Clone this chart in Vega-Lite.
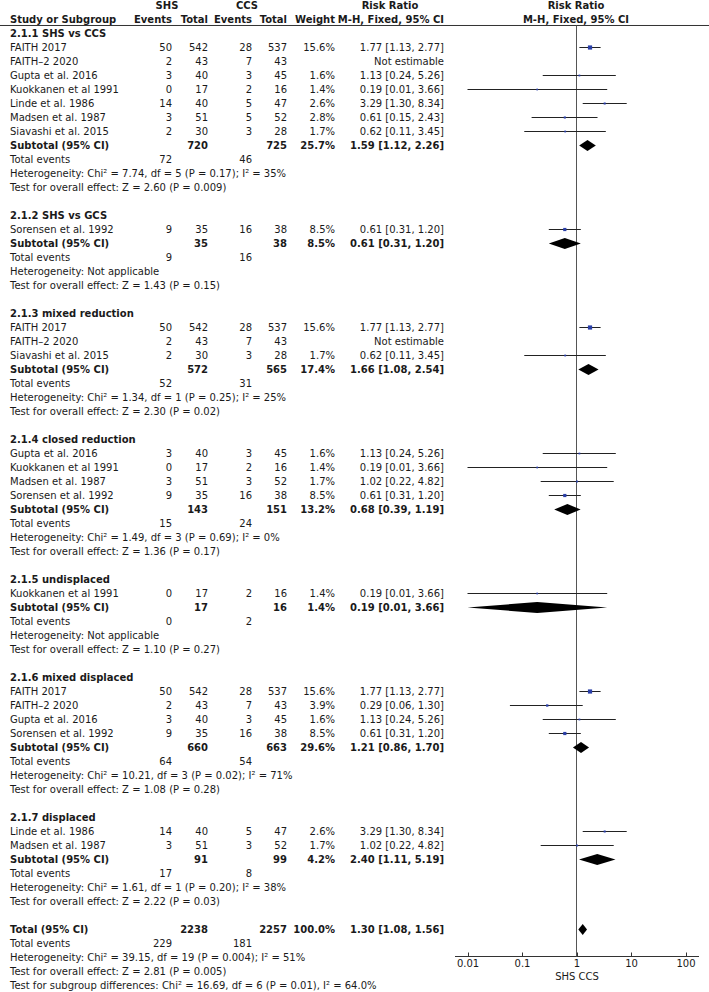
{
  "$schema": "https://vega.github.io/schema/vega-lite/v6.json",
  "width": 709,
  "height": 992,
  "padding": 0,
  "autosize": {"type": "none"},
  "background": "white",
  "config": {
    "view": {"stroke": null},
    "text": {"font": "DejaVu Sans", "fontSize": 10, "baseline": "middle", "color": "#1a1a1a"}
  },
  "data": {
    "values": [
      {"r": -2, "k": "colhead2", "g1": "SHS", "g2": "CCS", "h1": "Risk Ratio", "h2": "Risk Ratio"},
      {"r": -1, "k": "colhead", "n": "Study or Subgroup", "e1": "Events", "n1": "Total", "e2": "Events", "n2": "Total", "wh": "Weight", "ci": "M-H, Fixed, 95% CI", "h2": "M-H, Fixed, 95% CI"},
      {"r": 0, "k": "head", "n": "2.1.1 SHS vs CCS"},
      {"r": 1, "k": "study", "n": "FAITH 2017", "e1": 50, "n1": 542, "e2": 28, "n2": 537, "w": 0.156, "ci": "1.77 [1.13, 2.77]", "rr": 1.77, "lo": 1.13, "hi": 2.77},
      {"r": 2, "k": "study", "n": "FAITH–2 2020", "e1": 2, "n1": 43, "e2": 7, "n2": 43, "ci": "Not estimable"},
      {"r": 3, "k": "study", "n": "Gupta et al. 2016", "e1": 3, "n1": 40, "e2": 3, "n2": 45, "w": 0.016, "ci": "1.13 [0.24, 5.26]", "rr": 1.13, "lo": 0.24, "hi": 5.26},
      {"r": 4, "k": "study", "n": "Kuokkanen et al 1991", "e1": 0, "n1": 17, "e2": 2, "n2": 16, "w": 0.014, "ci": "0.19 [0.01, 3.66]", "rr": 0.19, "lo": 0.01, "hi": 3.66},
      {"r": 5, "k": "study", "n": "Linde et al. 1986", "e1": 14, "n1": 40, "e2": 5, "n2": 47, "w": 0.026, "ci": "3.29 [1.30, 8.34]", "rr": 3.29, "lo": 1.30, "hi": 8.34},
      {"r": 6, "k": "study", "n": "Madsen et al. 1987", "e1": 3, "n1": 51, "e2": 5, "n2": 52, "w": 0.028, "ci": "0.61 [0.15, 2.43]", "rr": 0.61, "lo": 0.15, "hi": 2.43},
      {"r": 7, "k": "study", "n": "Siavashi et al. 2015", "e1": 2, "n1": 30, "e2": 3, "n2": 28, "w": 0.017, "ci": "0.62 [0.11, 3.45]", "rr": 0.62, "lo": 0.11, "hi": 3.45},
      {"r": 8, "k": "sub", "n": "Subtotal (95% CI)", "n1": 720, "n2": 725, "w": 0.257, "ci": "1.59 [1.12, 2.26]", "rr": 1.59, "lo": 1.12, "hi": 2.26},
      {"r": 9, "k": "te", "n": "Total events", "e1": 72, "e2": 46},
      {"r": 10, "k": "info", "n": "Heterogeneity: Chi² = 7.74, df = 5 (P = 0.17); I² = 35%"},
      {"r": 11, "k": "info", "n": "Test for overall effect: Z = 2.60 (P = 0.009)"},
      {"r": 13, "k": "head", "n": "2.1.2 SHS vs GCS"},
      {"r": 14, "k": "study", "n": "Sorensen et al. 1992", "e1": 9, "n1": 35, "e2": 16, "n2": 38, "w": 0.085, "ci": "0.61 [0.31, 1.20]", "rr": 0.61, "lo": 0.31, "hi": 1.20},
      {"r": 15, "k": "sub", "n": "Subtotal (95% CI)", "n1": 35, "n2": 38, "w": 0.085, "ci": "0.61 [0.31, 1.20]", "rr": 0.61, "lo": 0.31, "hi": 1.20},
      {"r": 16, "k": "te", "n": "Total events", "e1": 9, "e2": 16},
      {"r": 17, "k": "info", "n": "Heterogeneity: Not applicable"},
      {"r": 18, "k": "info", "n": "Test for overall effect: Z = 1.43 (P = 0.15)"},
      {"r": 20, "k": "head", "n": "2.1.3 mixed reduction"},
      {"r": 21, "k": "study", "n": "FAITH 2017", "e1": 50, "n1": 542, "e2": 28, "n2": 537, "w": 0.156, "ci": "1.77 [1.13, 2.77]", "rr": 1.77, "lo": 1.13, "hi": 2.77},
      {"r": 22, "k": "study", "n": "FAITH–2 2020", "e1": 2, "n1": 43, "e2": 7, "n2": 43, "ci": "Not estimable"},
      {"r": 23, "k": "study", "n": "Siavashi et al. 2015", "e1": 2, "n1": 30, "e2": 3, "n2": 28, "w": 0.017, "ci": "0.62 [0.11, 3.45]", "rr": 0.62, "lo": 0.11, "hi": 3.45},
      {"r": 24, "k": "sub", "n": "Subtotal (95% CI)", "n1": 572, "n2": 565, "w": 0.174, "ci": "1.66 [1.08, 2.54]", "rr": 1.66, "lo": 1.08, "hi": 2.54},
      {"r": 25, "k": "te", "n": "Total events", "e1": 52, "e2": 31},
      {"r": 26, "k": "info", "n": "Heterogeneity: Chi² = 1.34, df = 1 (P = 0.25); I² = 25%"},
      {"r": 27, "k": "info", "n": "Test for overall effect: Z = 2.30 (P = 0.02)"},
      {"r": 29, "k": "head", "n": "2.1.4 closed reduction"},
      {"r": 30, "k": "study", "n": "Gupta et al. 2016", "e1": 3, "n1": 40, "e2": 3, "n2": 45, "w": 0.016, "ci": "1.13 [0.24, 5.26]", "rr": 1.13, "lo": 0.24, "hi": 5.26},
      {"r": 31, "k": "study", "n": "Kuokkanen et al 1991", "e1": 0, "n1": 17, "e2": 2, "n2": 16, "w": 0.014, "ci": "0.19 [0.01, 3.66]", "rr": 0.19, "lo": 0.01, "hi": 3.66},
      {"r": 32, "k": "study", "n": "Madsen et al. 1987", "e1": 3, "n1": 51, "e2": 3, "n2": 52, "w": 0.017, "ci": "1.02 [0.22, 4.82]", "rr": 1.02, "lo": 0.22, "hi": 4.82},
      {"r": 33, "k": "study", "n": "Sorensen et al. 1992", "e1": 9, "n1": 35, "e2": 16, "n2": 38, "w": 0.085, "ci": "0.61 [0.31, 1.20]", "rr": 0.61, "lo": 0.31, "hi": 1.20},
      {"r": 34, "k": "sub", "n": "Subtotal (95% CI)", "n1": 143, "n2": 151, "w": 0.132, "ci": "0.68 [0.39, 1.19]", "rr": 0.68, "lo": 0.39, "hi": 1.19},
      {"r": 35, "k": "te", "n": "Total events", "e1": 15, "e2": 24},
      {"r": 36, "k": "info", "n": "Heterogeneity: Chi² = 1.49, df = 3 (P = 0.69); I² = 0%"},
      {"r": 37, "k": "info", "n": "Test for overall effect: Z = 1.36 (P = 0.17)"},
      {"r": 39, "k": "head", "n": "2.1.5 undisplaced"},
      {"r": 40, "k": "study", "n": "Kuokkanen et al 1991", "e1": 0, "n1": 17, "e2": 2, "n2": 16, "w": 0.014, "ci": "0.19 [0.01, 3.66]", "rr": 0.19, "lo": 0.01, "hi": 3.66},
      {"r": 41, "k": "sub", "n": "Subtotal (95% CI)", "n1": 17, "n2": 16, "w": 0.014, "ci": "0.19 [0.01, 3.66]", "rr": 0.19, "lo": 0.01, "hi": 3.66},
      {"r": 42, "k": "te", "n": "Total events", "e1": 0, "e2": 2},
      {"r": 43, "k": "info", "n": "Heterogeneity: Not applicable"},
      {"r": 44, "k": "info", "n": "Test for overall effect: Z = 1.10 (P = 0.27)"},
      {"r": 46, "k": "head", "n": "2.1.6 mixed displaced"},
      {"r": 47, "k": "study", "n": "FAITH 2017", "e1": 50, "n1": 542, "e2": 28, "n2": 537, "w": 0.156, "ci": "1.77 [1.13, 2.77]", "rr": 1.77, "lo": 1.13, "hi": 2.77},
      {"r": 48, "k": "study", "n": "FAITH–2 2020", "e1": 2, "n1": 43, "e2": 7, "n2": 43, "w": 0.039, "ci": "0.29 [0.06, 1.30]", "rr": 0.29, "lo": 0.06, "hi": 1.30},
      {"r": 49, "k": "study", "n": "Gupta et al. 2016", "e1": 3, "n1": 40, "e2": 3, "n2": 45, "w": 0.016, "ci": "1.13 [0.24, 5.26]", "rr": 1.13, "lo": 0.24, "hi": 5.26},
      {"r": 50, "k": "study", "n": "Sorensen et al. 1992", "e1": 9, "n1": 35, "e2": 16, "n2": 38, "w": 0.085, "ci": "0.61 [0.31, 1.20]", "rr": 0.61, "lo": 0.31, "hi": 1.20},
      {"r": 51, "k": "sub", "n": "Subtotal (95% CI)", "n1": 660, "n2": 663, "w": 0.296, "ci": "1.21 [0.86, 1.70]", "rr": 1.21, "lo": 0.86, "hi": 1.70},
      {"r": 52, "k": "te", "n": "Total events", "e1": 64, "e2": 54},
      {"r": 53, "k": "info", "n": "Heterogeneity: Chi² = 10.21, df = 3 (P = 0.02); I² = 71%"},
      {"r": 54, "k": "info", "n": "Test for overall effect: Z = 1.08 (P = 0.28)"},
      {"r": 56, "k": "head", "n": "2.1.7 displaced"},
      {"r": 57, "k": "study", "n": "Linde et al. 1986", "e1": 14, "n1": 40, "e2": 5, "n2": 47, "w": 0.026, "ci": "3.29 [1.30, 8.34]", "rr": 3.29, "lo": 1.30, "hi": 8.34},
      {"r": 58, "k": "study", "n": "Madsen et al. 1987", "e1": 3, "n1": 51, "e2": 3, "n2": 52, "w": 0.017, "ci": "1.02 [0.22, 4.82]", "rr": 1.02, "lo": 0.22, "hi": 4.82},
      {"r": 59, "k": "sub", "n": "Subtotal (95% CI)", "n1": 91, "n2": 99, "w": 0.042, "ci": "2.40 [1.11, 5.19]", "rr": 2.40, "lo": 1.11, "hi": 5.19},
      {"r": 60, "k": "te", "n": "Total events", "e1": 17, "e2": 8},
      {"r": 61, "k": "info", "n": "Heterogeneity: Chi² = 1.61, df = 1 (P = 0.20); I² = 38%"},
      {"r": 62, "k": "info", "n": "Test for overall effect: Z = 2.22 (P = 0.03)"},
      {"r": 64, "k": "total", "n": "Total (95% CI)", "n1": 2238, "n2": 2257, "w": 1.0, "ci": "1.30 [1.08, 1.56]", "rr": 1.30, "lo": 1.08, "hi": 1.56},
      {"r": 65, "k": "te", "n": "Total events", "e1": 229, "e2": 181},
      {"r": 66, "k": "info", "n": "Heterogeneity: Chi² = 39.15, df = 19 (P = 0.004); I² = 51%"},
      {"r": 67, "k": "info", "n": "Test for overall effect: Z = 2.81 (P = 0.005)"},
      {"r": 68, "k": "info", "n": "Test for subgroup differences: Chi² = 16.69, df = 6 (P = 0.01), I² = 64.0%"}
    ]
  },
  "layer": [
    {
      "layer": [
        {"data": {"values": [{}]}, "mark": {"type": "rule", "color": "#333", "strokeWidth": 1}, "encoding": {"y": {"datum": -0.5716, "type": "quantitative", "scale": {"domain": [-2.393, 68.464], "reverse": true, "nice": false, "zero": false}, "axis": null}}},
        {
          "encoding": {"y": {"field": "r", "type": "quantitative", "scale": {"domain": [-2.393, 68.464], "reverse": true, "nice": false, "zero": false}, "axis": null}},
          "layer": [
            {"transform": [{"filter": "(datum.k=='study'||datum.k=='te'||datum.k=='info') && isValid(datum.n)"}], "mark": {"type": "text", "align": "left"}, "encoding": {"x": {"datum": 10, "type": "quantitative", "scale": {"domain": [0, 709], "nice": false, "zero": false}, "axis": null}, "text": {"field": "n", "type": "nominal"}}},
            {"transform": [{"filter": "!(datum.k=='study'||datum.k=='te'||datum.k=='info') && isValid(datum.n)"}], "mark": {"type": "text", "align": "left", "fontWeight": "bold"}, "encoding": {"x": {"datum": 10, "type": "quantitative", "scale": {"domain": [0, 709], "nice": false, "zero": false}, "axis": null}, "text": {"field": "n", "type": "nominal"}}},
            {"transform": [{"filter": "(datum.k=='study'||datum.k=='te') && isValid(datum.e1)"}], "mark": {"type": "text", "align": "right"}, "encoding": {"x": {"datum": 172, "type": "quantitative", "scale": {"domain": [0, 709], "nice": false, "zero": false}, "axis": null}, "text": {"field": "e1", "type": "nominal"}}},
            {"transform": [{"filter": "!(datum.k=='study'||datum.k=='te') && isValid(datum.e1)"}], "mark": {"type": "text", "align": "right", "fontWeight": "bold"}, "encoding": {"x": {"datum": 172, "type": "quantitative", "scale": {"domain": [0, 709], "nice": false, "zero": false}, "axis": null}, "text": {"field": "e1", "type": "nominal"}}},
            {"transform": [{"filter": "(datum.k=='study'||datum.k=='te') && isValid(datum.n1)"}], "mark": {"type": "text", "align": "right"}, "encoding": {"x": {"datum": 208, "type": "quantitative", "scale": {"domain": [0, 709], "nice": false, "zero": false}, "axis": null}, "text": {"field": "n1", "type": "nominal"}}},
            {"transform": [{"filter": "!(datum.k=='study'||datum.k=='te') && isValid(datum.n1)"}], "mark": {"type": "text", "align": "right", "fontWeight": "bold"}, "encoding": {"x": {"datum": 208, "type": "quantitative", "scale": {"domain": [0, 709], "nice": false, "zero": false}, "axis": null}, "text": {"field": "n1", "type": "nominal"}}},
            {"transform": [{"filter": "(datum.k=='study'||datum.k=='te') && isValid(datum.e2)"}], "mark": {"type": "text", "align": "right"}, "encoding": {"x": {"datum": 252, "type": "quantitative", "scale": {"domain": [0, 709], "nice": false, "zero": false}, "axis": null}, "text": {"field": "e2", "type": "nominal"}}},
            {"transform": [{"filter": "!(datum.k=='study'||datum.k=='te') && isValid(datum.e2)"}], "mark": {"type": "text", "align": "right", "fontWeight": "bold"}, "encoding": {"x": {"datum": 252, "type": "quantitative", "scale": {"domain": [0, 709], "nice": false, "zero": false}, "axis": null}, "text": {"field": "e2", "type": "nominal"}}},
            {"transform": [{"filter": "(datum.k=='study'||datum.k=='te') && isValid(datum.n2)"}], "mark": {"type": "text", "align": "right"}, "encoding": {"x": {"datum": 287, "type": "quantitative", "scale": {"domain": [0, 709], "nice": false, "zero": false}, "axis": null}, "text": {"field": "n2", "type": "nominal"}}},
            {"transform": [{"filter": "!(datum.k=='study'||datum.k=='te') && isValid(datum.n2)"}], "mark": {"type": "text", "align": "right", "fontWeight": "bold"}, "encoding": {"x": {"datum": 287, "type": "quantitative", "scale": {"domain": [0, 709], "nice": false, "zero": false}, "axis": null}, "text": {"field": "n2", "type": "nominal"}}},
            {"transform": [{"filter": "datum.k=='study' && isValid(datum.w)"}], "mark": {"type": "text", "align": "right"}, "encoding": {"x": {"datum": 335, "type": "quantitative", "scale": {"domain": [0, 709], "nice": false, "zero": false}, "axis": null}, "text": {"field": "w", "type": "quantitative", "format": ".1%"}}},
            {"transform": [{"filter": "datum.k!='study' && isValid(datum.w)"}], "mark": {"type": "text", "align": "right", "fontWeight": "bold"}, "encoding": {"x": {"datum": 335, "type": "quantitative", "scale": {"domain": [0, 709], "nice": false, "zero": false}, "axis": null}, "text": {"field": "w", "type": "quantitative", "format": ".1%"}}},
            {"transform": [{"filter": "isValid(datum.wh)"}], "mark": {"type": "text", "align": "right", "fontWeight": "bold"}, "encoding": {"x": {"datum": 335, "type": "quantitative", "scale": {"domain": [0, 709], "nice": false, "zero": false}, "axis": null}, "text": {"field": "wh", "type": "nominal"}}},
            {"transform": [{"filter": "datum.k=='study' && isValid(datum.ci)"}], "mark": {"type": "text", "align": "right"}, "encoding": {"x": {"datum": 444, "type": "quantitative", "scale": {"domain": [0, 709], "nice": false, "zero": false}, "axis": null}, "text": {"field": "ci", "type": "nominal"}}},
            {"transform": [{"filter": "datum.k!='study' && isValid(datum.ci)"}], "mark": {"type": "text", "align": "right", "fontWeight": "bold"}, "encoding": {"x": {"datum": 444, "type": "quantitative", "scale": {"domain": [0, 709], "nice": false, "zero": false}, "axis": null}, "text": {"field": "ci", "type": "nominal"}}},
            {"transform": [{"filter": "isValid(datum.g1)"}], "mark": {"type": "text", "align": "center", "fontWeight": "bold"}, "encoding": {"x": {"datum": 167, "type": "quantitative", "scale": {"domain": [0, 709], "nice": false, "zero": false}, "axis": null}, "text": {"field": "g1", "type": "nominal"}}},
            {"transform": [{"filter": "isValid(datum.g2)"}], "mark": {"type": "text", "align": "center", "fontWeight": "bold"}, "encoding": {"x": {"datum": 247, "type": "quantitative", "scale": {"domain": [0, 709], "nice": false, "zero": false}, "axis": null}, "text": {"field": "g2", "type": "nominal"}}},
            {"transform": [{"filter": "isValid(datum.h1)"}], "mark": {"type": "text", "align": "center", "fontWeight": "bold"}, "encoding": {"x": {"datum": 390, "type": "quantitative", "scale": {"domain": [0, 709], "nice": false, "zero": false}, "axis": null}, "text": {"field": "h1", "type": "nominal"}}},
            {"transform": [{"filter": "isValid(datum.h2)"}], "mark": {"type": "text", "align": "center", "fontWeight": "bold"}, "encoding": {"x": {"datum": 576, "type": "quantitative", "scale": {"domain": [0, 709], "nice": false, "zero": false}, "axis": null}, "text": {"field": "h2", "type": "nominal"}}}
          ]
        }
      ]
    },
    {
      "layer": [
        {"data": {"values": [{}]}, "mark": {"type": "rule", "color": "#555", "strokeWidth": 1}, "encoding": {"x": {"datum": 1, "type": "quantitative", "scale": {"type": "log", "domain": [0.00577, 173.2], "range": [454.5, 698.5], "nice": false}, "axis": {"orient": "bottom", "offset": -36, "values": [0.01, 0.1, 1, 10, 100], "format": "~g", "tickSize": -4, "tickColor": "#333", "domainColor": "#333", "labelFont": "DejaVu Sans", "labelFontSize": 10, "labelColor": "#1a1a1a", "labelPadding": 6, "labelFlush": false, "title": "SHS  CCS", "titleFont": "DejaVu Sans", "titleFontSize": 10, "titleFontWeight": "normal", "titleColor": "#1a1a1a", "titlePadding": 3, "grid": false}}, "y": {"datum": -0.5716, "type": "quantitative", "scale": {"domain": [-2.393, 68.464], "reverse": true, "nice": false, "zero": false}, "axis": null}, "y2": {"datum": 65.93}}},
        {
          "encoding": {"y": {"field": "r", "type": "quantitative", "scale": {"domain": [-2.393, 68.464], "reverse": true, "nice": false, "zero": false}, "axis": null}},
          "layer": [
            {"transform": [{"filter": "datum.k=='study' && isValid(datum.lo)"}], "mark": {"type": "rule", "color": "#222", "strokeWidth": 1}, "encoding": {"x": {"field": "lo", "type": "quantitative"}, "x2": {"field": "hi"}}},
            {"transform": [{"filter": "datum.k=='study' && isValid(datum.rr)"}], "mark": {"type": "square", "filled": true, "color": "#2a3fa8", "opacity": 1}, "encoding": {"x": {"field": "rr", "type": "quantitative"}, "size": {"field": "w", "type": "quantitative", "scale": {"domain": [0, 0.16], "range": [1.5, 18]}, "legend": null}}},
            {"transform": [{"filter": "datum.k=='sub' || datum.k=='total'"}, {"fold": ["lo", "rr", "hi"], "as": ["pt", "xv"]}], "mark": {"type": "area", "orient": "vertical", "color": "#000", "yOffset": {"expr": "datum.pt == 'rr' ? -5.5 : 0"}, "y2Offset": {"expr": "datum.pt == 'rr' ? 5.5 : 0"}}, "encoding": {"x": {"field": "xv", "type": "quantitative"}, "y2": {"field": "r"}, "detail": {"field": "r", "type": "nominal"}}}
          ]
        }
      ]
    }
  ],
  "resolve": {"scale": {"x": "independent"}, "axis": {"x": "independent"}}
}
